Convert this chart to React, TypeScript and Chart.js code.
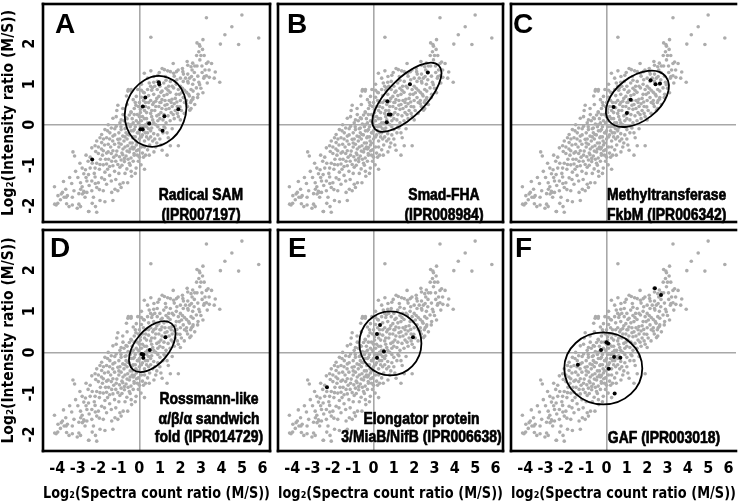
import React, { useEffect, useRef } from "react";
import { Chart, registerables } from "chart.js";

Chart.register(...registerables);

// ---------- data ----------
const X_TICKS = [-4, -3, -2, -1, 0, 1, 2, 3, 4, 5, 6];
const Y_TICKS = [-2, -1, 0, 1, 2];

// all proteins: log2 spectra count ratio (x) vs log2 intensity ratio (y)
const cloudPoints: [number, number][] = [
  [-4.14, -1.53], [-3.97, -1.75], [-3.81, -1.71], [-3.75, -1.67], [-3.59, -1.59], [-3.67, -1.79], [-3.51, -1.75],
  [-3.27, -1.79], [-3.19, -1.63], [-3.98, -1.94], [-4.06, -1.98], [-4.13, -1.96], [-3.43, -2.02], [-3.27, -1.98],
  [-2.95, -1.96], [-3.03, -2.06], [-2.87, -2.02], [-2.48, -2.14], [-2.08, -2.16], [-3.57, -1.79], [-2.3, -1.94],
  [-2.14, -2.02], [-2.46, -2.14], [-3.24, -0.67], [-3.16, -0.77],
  [-3.11, -1.15], [-2.79, -1.07], [-2.63, -1.11], [-2.4, -1.07], [-2.16, -1.07], [-2.71, -1.21], [-2.48, -1.23],
  [-2.16, -1.29], [-2.87, -1.43], [-2.79, -1.53], [-2.71, -1.64], [-2.56, -1.67], [-2.32, -1.63], [-2.08, -1.55],
  [-2.56, -1.39], [-2.32, -1.39], [-2.24, -1.79], [-2.0, -1.43], [-1.92, -1.87], [-1.68, -1.9], [-1.29, -1.87],
  [-1.76, -1.63], [-1.6, -1.47], [-1.84, -1.31], [-1.37, -1.39], [-1.05, -1.63], [-0.89, -1.55], [-0.57, -1.43],
  [-0.38, -1.27], [-1.21, -1.15], [-1.68, -1.17],
  [-2.7, -1.67], [-2.86, -1.59], [-2.78, -1.71], [-2.65, -1.79], [-1.35, -1.67], [-1.19, -1.59], [-0.95, -1.47],
  [-0.79, -1.43], [-0.4, -1.15], [-0.16, -1.07], [0.08, -0.99], [0.48, -0.75], [0.71, -0.67], [1.11, -0.63],
  [1.35, -0.75], [1.51, -0.52], [1.9, -0.52],
  [-2.08, -0.95], [-1.92, -0.98], [-1.76, -0.99], [-1.6, -0.97], [-1.45, -1.03], [-1.29, -1.01], [-1.05, -0.98],
  [-0.89, -0.87], [-0.73, -0.91], [-0.49, -0.95], [-0.61, -1.09],
  [-2.13, -0.66], [-2.0, -0.71], [-1.76, -0.64], [-1.52, -0.67], [-1.37, -0.71], [-1.29, -0.64], [-1.13, -0.75],
  [-0.97, -0.79], [-0.81, -0.74], [-0.73, -0.83], [-0.65, -0.77], [-0.49, -0.67], [-0.41, -0.82], [-0.26, -0.71],
  [-0.14, -0.64], [-0.1, -0.75],
  [-1.9, -0.85], [-1.5, -0.85], [-1.15, -0.9], [-0.3, -0.9], [-0.2, -1.2], [-1.0, -1.2], [-1.45, -1.25],
  [-2.5, -0.9], [-2.9, -0.95], [-3.4, -1.3], [-3.7, -1.4], [-2.6, -0.75], [-1.7, -0.5], [-1.0, -0.55],
  [-0.35, -0.55], [0.2, -0.8], [-0.05, -0.9],
  [-0.54, 0.87], [-0.41, 0.83], [-1.05, 0.48], [-0.81, 0.4], [-1.29, 0.16], [-1.13, 0.2], [-0.89, 0.12],
  [-0.65, 0.17], [-0.49, 0.24], [-0.41, 0.32], [-0.25, 0.4], [-0.17, 0.48],
  [-1.52, 0.0], [-1.37, -0.08], [-1.13, -0.04], [-0.89, -0.12], [-0.65, -0.08], [-0.41, 0.0], [-0.25, -0.12],
  [-0.1, -0.2], [-1.44, -0.2], [-1.68, -0.12], [-1.84, -0.24], [-1.92, -0.32], [-1.6, -0.32], [-1.29, -0.28],
  [-1.05, -0.36], [-0.81, -0.28], [-0.57, -0.24], [-0.33, -0.32], [-0.17, -0.4], [-2.08, -0.4], [-1.84, -0.44],
  [-1.52, -0.48], [-1.21, -0.48], [-0.89, -0.48], [-2.16, -0.52], [-2.32, -0.57], [-0.57, -0.52], [-0.25, -0.56],
  [0.24, 1.27], [0.56, 1.33], [0.71, 1.19], [1.11, 1.39], [1.27, 1.19], [1.51, 1.31], [1.67, 1.27], [0.4, 1.15],
  [0.9, 1.22],
  [-0.4, 0.87], [-0.08, 0.87], [0.24, 0.79], [0.4, 0.87], [0.48, 1.03], [0.63, 0.91], [0.87, 0.87], [0.87, 1.07],
  [1.11, 0.83], [1.19, 1.03], [1.43, 0.95], [1.51, 1.07], [1.67, 0.91], [1.83, 1.11], [1.9, 0.87], [2.06, 0.79],
  [2.14, 1.07], [2.38, 1.03], [0.1, 1.0], [1.3, 0.9], [0.75, 0.95], [1.0, 0.95],
  [-0.56, 0.83], [-0.63, 0.71], [-0.3, 0.62], [-0.15, 0.7], [0.0, 0.55], [0.1, 0.68], [0.3, 0.55], [0.45, 0.72],
  [0.55, 0.6], [0.7, 0.75], [0.8, 0.58], [0.95, 0.7], [1.05, 0.55], [1.2, 0.72], [1.35, 0.75], [1.45, 0.6],
  [1.59, 0.63], [1.7, 0.52], [1.83, 0.56], [1.98, 0.44], [2.14, 0.67], [2.3, 0.6], [2.3, 0.52], [2.46, 0.36],
  [2.54, 0.6], [2.62, 0.67], [2.19, 0.28], [0.2, 0.8], [0.65, 0.5], [1.1, 0.62],
  [-0.4, 0.3], [-0.1, 0.25], [0.05, 0.38], [0.15, 0.2], [0.25, 0.35], [0.35, 0.15], [0.45, 0.42], [0.55, 0.28],
  [0.65, 0.12], [0.75, 0.35], [0.85, 0.22], [0.95, 0.45], [1.05, 0.3], [1.15, 0.12], [1.3, 0.38], [1.4, 0.22],
  [1.55, 0.3], [1.7, 0.15], [1.85, 0.28], [2.0, 0.12], [0.1, 0.1], [0.5, 0.05], [0.9, 0.1], [-0.6, 0.15],
  [-0.8, 0.25], [1.25, 0.48], [0.3, 0.45],
  [-0.9, -0.05], [-0.7, -0.1], [-0.55, 0.02], [-0.4, -0.15], [-0.3, 0.05], [-0.2, -0.05], [-0.05, -0.2],
  [0.05, -0.05], [0.2, -0.15], [0.3, 0.0], [0.4, -0.2], [0.6, -0.08], [0.7, -0.22], [0.8, 0.0], [1.0, -0.12],
  [1.2, -0.05], [1.35, -0.2], [1.6, -0.1], [-0.15, 0.1], [0.15, -0.25], [0.45, -0.1],
  [-0.6, -0.35], [-0.45, -0.45], [-0.3, -0.3], [-0.15, -0.5], [0.0, -0.35], [0.1, -0.55], [0.25, -0.4],
  [0.35, -0.3], [0.5, -0.5], [0.65, -0.4], [0.8, -0.55], [1.0, -0.35], [-0.8, -0.6], [-0.05, -0.62], [0.4, -0.62],
  [1.25, -0.08], [1.41, -0.32],
  [0.0, 0.2], [-0.05, 0.45], [0.2, 0.6], [0.6, 0.2], [0.7, 0.55], [1.0, 0.15], [0.35, -0.05], [-0.3, -0.15],
  [-0.5, -0.25], [-0.7, -0.3], [-1.0, -0.2], [-1.2, -0.1], [-0.95, 0.05], [-0.75, 0.1], [-1.1, 0.35], [-0.6, 0.5],
  [0.15, -0.7], [0.55, -0.3], [0.9, -0.25], [-0.25, -0.75], [-0.45, -0.6], [1.6, 0.45], [1.8, 0.75], [2.0, 0.95],
  [1.75, 0.35], [1.5, 0.8], [2.2, 0.85], [2.4, 0.75], [2.6, 1.0], [2.0, 0.6],
  [2.81, 2.02], [2.92, 1.98], [2.95, 1.94], [3.08, 1.86], [2.79, 1.71], [3.0, 1.71], [3.16, 1.71], [3.27, 1.51],
  [3.52, 1.51], [1.65, 1.51], [2.33, 1.56], [2.6, 1.52], [2.36, 1.47], [2.81, 1.45], [0.97, 1.29], [1.22, 1.36],
  [1.38, 1.33], [1.81, 1.31], [1.89, 1.35], [2.1, 1.39], [2.12, 1.31], [2.52, 1.43], [2.57, 1.35], [2.68, 1.29],
  [2.36, 1.25], [3.27, 1.21],
  [2.54, 1.19], [3.06, 1.29], [3.17, 1.19], [3.41, 1.17], [3.65, 1.15], [3.92, 1.05], [2.94, 0.99], [2.78, 0.91],
  [2.62, 0.83], [2.86, 0.75], [3.1, 0.79], [2.36, 1.07], [2.67, 1.11], [3.14, 1.15], [3.31, 1.03], [2.52, 0.87],
  [2.44, 0.71], [2.6, 0.63], [2.84, 0.67], [2.52, 0.4],
  [3.27, 2.64], [5.0, 2.71], [4.51, 2.42], [4.17, 2.22], [5.82, 2.14], [3.95, 1.99], [4.84, 1.98], [0.56, 2.16],
  [-2.4, -0.8], [-2.2, -1.2], [-1.95, -1.1], [-1.8, -0.75], [-1.65, -0.85], [-1.55, -1.1], [-2.3, -0.95],
  [-2.6, -1.3], [-2.0, -0.55], [-1.85, -0.6], [-2.45, -1.5], [-2.15, -1.45], [-1.7, -1.35], [-1.95, -1.6],
  [-3.0, -1.3], [-3.3, -1.45], [-2.95, -1.7], [-3.55, -1.95], [-3.85, -1.85],
  [-1.4, -0.55], [-1.25, -0.8], [-1.1, -0.65], [-0.95, -0.35], [-0.85, -0.7], [-0.7, -0.55], [-0.6, -0.65],
  [-0.55, -0.85], [-1.3, -0.4], [-1.2, -0.25], [-1.45, -0.35], [-0.75, -0.4], [-0.95, -1.05], [-1.15, -1.35],
  [-0.7, -1.2], [-0.85, -1.0], [-1.6, -0.7], [-1.35, -0.9], [-1.0, -0.45], [-0.65, -0.2], [-1.55, -0.15],
  [-1.75, -0.35],
  [-0.35, -0.45], [-0.2, -0.3], [-0.1, -0.45], [0.0, -0.15], [0.1, -0.3], [0.2, -0.05], [0.25, -0.55],
  [0.3, -0.2], [0.4, 0.05], [0.45, -0.35], [-0.45, -0.05], [-0.35, 0.15], [-0.25, 0.25], [-0.05, 0.05],
  [0.05, 0.3], [0.15, 0.45], [0.25, 0.15], [0.35, 0.3], [0.45, 0.55], [-0.2, 0.55], [0.1, 0.85], [-0.3, -0.6],
  [0.0, -0.8], [0.3, -0.75], [-0.45, -1.0], [0.25, -1.1],
  [0.55, -0.15], [0.6, 0.35], [0.7, 0.05], [0.75, -0.35], [0.8, 0.45], [0.85, 0.65], [0.9, -0.05], [0.95, 0.25],
  [1.0, 0.55], [1.05, 0.8], [1.1, 0.4], [1.15, -0.2], [1.2, 0.25], [1.25, 0.6], [1.3, 0.05], [1.35, 0.5],
  [1.4, 0.85], [1.45, 0.4], [1.5, 0.1], [0.6, 0.85], [0.7, 1.05], [0.85, -0.45], [1.05, -0.5], [1.3, 1.1],
  [0.55, 0.95],
  [1.55, 0.55], [1.6, 0.95], [1.65, 0.25], [1.75, 0.65], [1.8, 1.0], [1.85, 0.45], [1.95, 0.75], [2.0, 1.15],
  [2.05, 0.35], [2.1, 0.9], [2.2, 0.55], [2.25, 1.15], [2.3, 0.8], [2.35, 0.45], [2.45, 1.15], [2.5, 0.55],
  [1.7, 1.2], [1.9, 0.2], [2.15, 1.25],
  [2.7, 1.45], [2.85, 1.2], [2.95, 1.6], [3.05, 1.45], [3.2, 1.35], [3.35, 1.55], [2.9, 1.05], [3.0, 0.9],
  [2.7, 0.5], [3.4, 1.35], [3.7, 1.3], [3.1, 2.1], [2.9, 1.8],
];

// highlighted proteins of each domain family
const hitsA: [number, number][] = [
  [0.95, 1.05], [0.97, 1.0], [0.29, 0.67], [0.17, 0.45], [1.9, 0.38], [1.22, 0.21], [0.48, 0.03],
  [0.05, -0.11], [0.16, -0.11], [1.13, -0.15], [-2.3, -0.86],
];
const hitsB: [number, number][] = [
  [2.67, 1.29], [1.79, 1.0], [0.68, 0.58], [0.75, 0.25], [0.83, 0.25], [0.65, 0.06],
];
const hitsC: [number, number][] = [
  [2.17, 1.1], [2.41, 1.0], [2.63, 1.02], [1.19, 0.62], [0.35, 0.44], [1.0, 0.29],
];
const hitsD: [number, number][] = [
  [1.27, 0.37], [0.51, 0.06], [0.11, -0.04], [0.19, -0.05], [0.19, -0.13],
];
const hitsE: [number, number][] = [
  [0.32, 0.67], [0.17, 0.45], [1.94, 0.37], [0.51, 0.02], [0.17, -0.13], [-2.29, -0.85],
];
const hitsF: [number, number][] = [
  [2.38, 1.56], [2.68, 1.4], [0.0, 0.25], [0.08, 0.22], [-0.27, 0.06], [0.37, -0.11], [0.68, -0.13],
  [-1.41, -0.3], [0.11, -0.4], [0.4, -1.0],
];

const Y_TITLE = "Log\u2082(Intensity ratio (M/S))";
const X_TITLES = [
  "Log\u2082(Spectra count ratio (M/S))",
  "log\u2082(Spectra count ratio (M/S))",
  "log\u2082(Spectra count ratio (M/S))",
];

// ---------- layout / style ----------
const W = 740;
const H = 503;
const X_MIN = -4.7;
const X_MAX = 6.37;
const Y_MIN = -2.4;
const Y_MAX = 2.98;
const COLS = [
  { left: 43, right: 274 },
  { left: 274, right: 507 },
  { left: 507, right: 740 },
];
const ROWS = [
  { top: 0, bottom: 226 },
  { top: 226, bottom: 451 },
];
const AXIS_FAMILY = "'DejaVu Sans Condensed', 'Liberation Sans', sans-serif";
const LABEL_FAMILY = "'Liberation Sans', Arial, sans-serif";
const NARROW_SCALE = 0.82;
const GRAY = "#acacac";
const ZERO_LINE = "#a8a8a8";
const BORDER = 2.6;

type Panel = {
  letter: string;
  col: number;
  row: number;
  hits: [number, number][];
  ellipse: { x: number; y: number; a: number; b: number; rot: number };
  letterPos: [number, number];
  lines: string[];
  textX: number;
  textAlign: CanvasTextAlign;
  baselines: number[];
};

const PANELS: Panel[] = [
  {
    letter: "A", col: 0, row: 0, hits: hitsA,
    ellipse: { x: 0.79, y: 0.33, a: 30, b: 36, rot: 20 },
    letterPos: [55, 33], lines: ["Radical SAM", "(IPR007197)"], textX: 201, textAlign: "center", baselines: [200, 219.5],
  },
  {
    letter: "B", col: 1, row: 0, hits: hitsB,
    ellipse: { x: 1.64, y: 0.68, a: 45, b: 19, rot: -45 },
    letterPos: [287, 33], lines: ["Smad-FHA", "(IPR008984)"], textX: 444, textAlign: "center", baselines: [200, 219.5],
  },
  {
    letter: "C", col: 2, row: 0, hits: hitsC,
    ellipse: { x: 1.52, y: 0.64, a: 36, b: 22, rot: -38 },
    letterPos: [513, 33], lines: ["Methyltransferase", "FkbM (IPR006342)"], textX: 607, textAlign: "left", baselines: [200, 219.5],
  },
  {
    letter: "D", col: 0, row: 1, hits: hitsD,
    ellipse: { x: 0.63, y: 0.14, a: 30, b: 17, rot: -50 },
    letterPos: [50, 257], lines: ["Rossmann-like", "\u03b1/\u03b2/\u03b1 sandwich", "fold (IPR014729)"], textX: 209, textAlign: "center", baselines: [404, 423.5, 442],
  },
  {
    letter: "E", col: 1, row: 1, hits: hitsE,
    ellipse: { x: 0.83, y: 0.22, a: 31, b: 32, rot: 0 },
    letterPos: [288, 257], lines: ["Elongator protein", "3/MiaB/NifB (IPR006638)"], textX: 421.5, textAlign: "center", baselines: [424, 442],
  },
  {
    letter: "F", col: 2, row: 1, hits: hitsF,
    ellipse: { x: -0.16, y: -0.39, a: 39, b: 36, rot: 0 },
    letterPos: [515, 257], lines: ["GAF (IPR003018)"], textX: 664, textAlign: "center", baselines: [443],
  },
];

function PanelChart({ p }: { p: Panel }) {
  const ref = useRef<HTMLCanvasElement>(null);
  const col = COLS[p.col];
  const row = ROWS[p.row];
  const showY = p.col === 0;
  const showX = p.row === 1;
  const canvasLeft = showY ? 0 : col.left;
  const canvasTop = row.top;
  const cw = col.right - canvasLeft;
  const ch = showX ? H - row.top : row.bottom - row.top;

  useEffect(() => {
    const canvas = ref.current;
    if (!canvas) return;
    const tickFont = { family: AXIS_FAMILY, size: 16, weight: "bold" as const };
    const titleFont = { family: AXIS_FAMILY, size: 15.5, weight: "bold" as const };

    const decor = {
      id: "panelDecor" + p.letter,
      afterDatasetsDraw(chart: any) {
        const { ctx, chartArea, scales } = chart;
        ctx.save();
        // ellipse
        const e = p.ellipse;
        const cx = scales.x.getPixelForValue(e.x);
        const cy = scales.y.getPixelForValue(e.y);
        ctx.beginPath();
        ctx.ellipse(cx, cy, e.a, e.b, (e.rot * Math.PI) / 180, 0, Math.PI * 2);
        ctx.lineWidth = 1.8;
        ctx.strokeStyle = "#000";
        ctx.stroke();
        // panel letter
        ctx.fillStyle = "#000";
        ctx.font = "bold 28px " + LABEL_FAMILY;
        ctx.textAlign = "left";
        ctx.textBaseline = "alphabetic";
        ctx.fillText(p.letter, p.letterPos[0] - canvasLeft, p.letterPos[1] - canvasTop);
        // domain label (narrow bold)
        ctx.save();
        ctx.font = "bold 17px " + LABEL_FAMILY;
        ctx.textAlign = p.textAlign;
        ctx.scale(NARROW_SCALE, 1);
        ctx.lineWidth = 0.7;
        ctx.strokeStyle = "#000";
        ctx.lineJoin = "round";
        p.lines.forEach((t, i) => {
          const tx = (p.textX - canvasLeft) / NARROW_SCALE;
          const ty = p.baselines[i] - canvasTop;
          ctx.fillText(t, tx, ty);
          ctx.strokeText(t, tx, ty);
        });
        ctx.restore();
        // frame
        const { left, right, top, bottom } = chartArea;
        const hb = BORDER / 2;
        ctx.fillStyle = "#000";
        ctx.fillRect(left - hb, top - hb, BORDER, bottom - top + BORDER);
        if (p.col < 2) ctx.fillRect(right - hb, top - hb, BORDER, bottom - top + BORDER);
        ctx.fillRect(left - hb, top - hb, right - left + BORDER, BORDER);
        ctx.fillRect(left - hb, bottom - hb, right - left + BORDER, BORDER);
        ctx.restore();
      },
    };

    const chart = new Chart(canvas, {
      type: "scatter",
      data: {
        datasets: [
          {
            data: p.hits.map(([x, y]) => ({ x, y })),
            pointBackgroundColor: "#000",
            pointBorderWidth: 0,
            pointRadius: 2,
            order: 0,
          },
          {
            data: cloudPoints.map(([x, y]) => ({ x, y })),
            pointBackgroundColor: GRAY,
            pointBorderWidth: 0,
            pointRadius: 1.8,
            order: 1,
          },
        ],
      },
      options: {
        animation: false,
        responsive: false,
        events: [],
        layout: { padding: 0 },
        plugins: { legend: { display: false }, tooltip: { enabled: false } },
        scales: {
          x: {
            type: "linear",
            min: X_MIN,
            max: X_MAX,
            afterBuildTicks: (s: any) => {
              s.ticks = X_TICKS.map((v) => ({ value: v }));
            },
            afterFit: (s: any) => {
              s.height = showX ? H - ROWS[1].bottom : 0;
              s.paddingLeft = 0;
              s.paddingRight = 0;
              s.paddingTop = 0;
              s.paddingBottom = 0;
            },
            grid: {
              color: (c: any) => (c.tick && c.tick.value === 0 ? ZERO_LINE : "rgba(0,0,0,0)"),
              lineWidth: 1.6,
              drawTicks: false,
            },
            border: { display: false },
            ticks: {
              display: showX,
              font: tickFont,
              color: "#000",
              padding: 8,
              maxRotation: 0,
              autoSkip: false,
              callback: (v: any) => String(v),
            },
            title: { display: showX, text: X_TITLES[p.col], font: titleFont, color: "#000", padding: 0 },
          },
          y: {
            type: "linear",
            min: Y_MIN,
            max: Y_MAX,
            afterBuildTicks: (s: any) => {
              s.ticks = Y_TICKS.map((v) => ({ value: v }));
            },
            afterFit: (s: any) => {
              s.width = showY ? COLS[0].left : 0;
              s.paddingLeft = 0;
              s.paddingRight = 0;
              s.paddingTop = 0;
              s.paddingBottom = 0;
            },
            grid: {
              color: (c: any) => (c.tick && c.tick.value === 0 ? ZERO_LINE : "rgba(0,0,0,0)"),
              lineWidth: 1.6,
              drawTicks: false,
            },
            border: { display: false },
            ticks: {
              display: showY,
              font: tickFont,
              color: "#000",
              padding: 5,
              minRotation: 90,
              maxRotation: 90,
              crossAlign: "center",
              autoSkip: false,
              callback: (v: any) => String(v),
            },
            title: { display: showY, text: Y_TITLE, font: titleFont, color: "#000", padding: 0 },
          },
        },
      },
      plugins: [decor],
    } as any);
    return () => chart.destroy();
  }, []);

  return (
    <div style={{ position: "absolute", left: canvasLeft, top: canvasTop, width: cw, height: ch }}>
      <canvas ref={ref} width={cw} height={ch} style={{ display: "block", width: cw, height: ch }} />
    </div>
  );
}

export default function App() {
  return (
    <div
      style={{
        position: "fixed",
        left: 0,
        top: 0,
        width: W,
        height: H,
        background: "#fff",
        overflow: "hidden",
      }}
    >
      {PANELS.map((p) => (
        <PanelChart key={p.letter} p={p} />
      ))}
    </div>
  );
}
